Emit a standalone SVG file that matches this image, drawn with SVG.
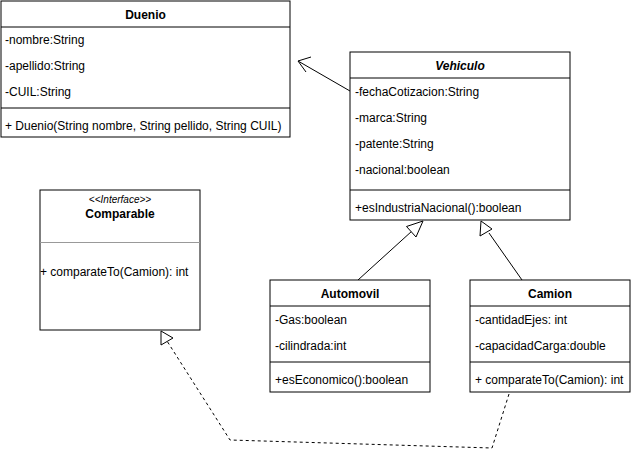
<svg xmlns="http://www.w3.org/2000/svg" width="631" height="465" viewBox="0 0 631 465">
<style>
text{font-family:"Liberation Sans",Arial,sans-serif;font-size:12px;fill:#000}
.t{font-weight:bold;text-anchor:middle}
.box{fill:#fff;stroke:#000;stroke-width:1}
.ln{stroke:#000;stroke-width:1}
.c{fill:none;stroke:#000;stroke-width:1}
.d{stroke-dasharray:3 3}
.tri{fill:#fff;stroke:#000;stroke-width:1}
</style>
<rect width="631" height="465" fill="#fff"/>
<g id="connectors">
<path class="c" d="M350 91 L298 61"/>
<path class="c" d="M311 57 L298 61 L306 72"/>
<path class="c" d="M358 280 L412 231"/>
<polygon class="tri" points="423,221 406.5,226.5 416,237"/>
<path class="c" d="M522 280 L489 233"/>
<polygon class="tri" points="481,221 480,236 492,229"/>
<path class="c d" d="M509 394 L492 448 L230 440 L167 341"/>
<polygon class="tri" points="161,331 161,345 173,338"/>
</g>
<g id="Duenio">
<rect class="box" x="1" y="1" width="289" height="136"/>
<line class="ln" x1="1" y1="27" x2="290" y2="27"/>
<line class="ln" x1="1" y1="108" x2="290" y2="108"/>
<text class="t" x="145.5" y="19">Duenio</text>
<text x="5" y="44">-nombre:String</text>
<text x="5" y="70">-apellido:String</text>
<text x="5" y="96">-CUIL:String</text>
<text x="5" y="130">+ Duenio(String nombre, String pellido, String CUIL)</text>
</g>
<g id="Vehiculo">
<rect class="box" x="350" y="52" width="220" height="168"/>
<line class="ln" x1="350" y1="78" x2="570" y2="78"/>
<line class="ln" x1="350" y1="190" x2="570" y2="190"/>
<text class="t" x="460" y="70" font-style="italic">Vehiculo</text>
<text x="355" y="96">-fechaCotizacion:String</text>
<text x="355" y="122">-marca:String</text>
<text x="355" y="148">-patente:String</text>
<text x="355" y="174">-nacional:boolean</text>
<text x="355" y="212">+esIndustriaNacional():boolean</text>
</g>
<g id="Comparable">
<rect class="box" x="40" y="190" width="160" height="140"/>
<line x1="40" y1="242.5" x2="200" y2="242.5" stroke="#999" stroke-width="1"/>
<text x="120" y="203" text-anchor="middle" font-style="italic" style="font-size:10px">&lt;&lt;Interface&gt;&gt;</text>
<text class="t" x="120" y="218">Comparable</text>
<text x="40" y="276">+ comparateTo(Camion): int</text>
</g>
<g id="Automovil">
<rect class="box" x="270" y="280" width="160" height="112"/>
<line class="ln" x1="270" y1="306" x2="430" y2="306"/>
<line class="ln" x1="270" y1="362" x2="430" y2="362"/>
<text class="t" x="350" y="298">Automovil</text>
<text x="275" y="324">-Gas:boolean</text>
<text x="275" y="350">-cilindrada:int</text>
<text x="275" y="384">+esEconomico():boolean</text>
</g>
<g id="Camion">
<rect class="box" x="470" y="280" width="160" height="112"/>
<line class="ln" x1="470" y1="306" x2="630" y2="306"/>
<line class="ln" x1="470" y1="362" x2="630" y2="362"/>
<text class="t" x="550" y="298">Camion</text>
<text x="475" y="324">-cantidadEjes: int</text>
<text x="475" y="350">-capacidadCarga:double</text>
<text x="475" y="384">+ comparateTo(Camion): int</text>
</g>
</svg>
